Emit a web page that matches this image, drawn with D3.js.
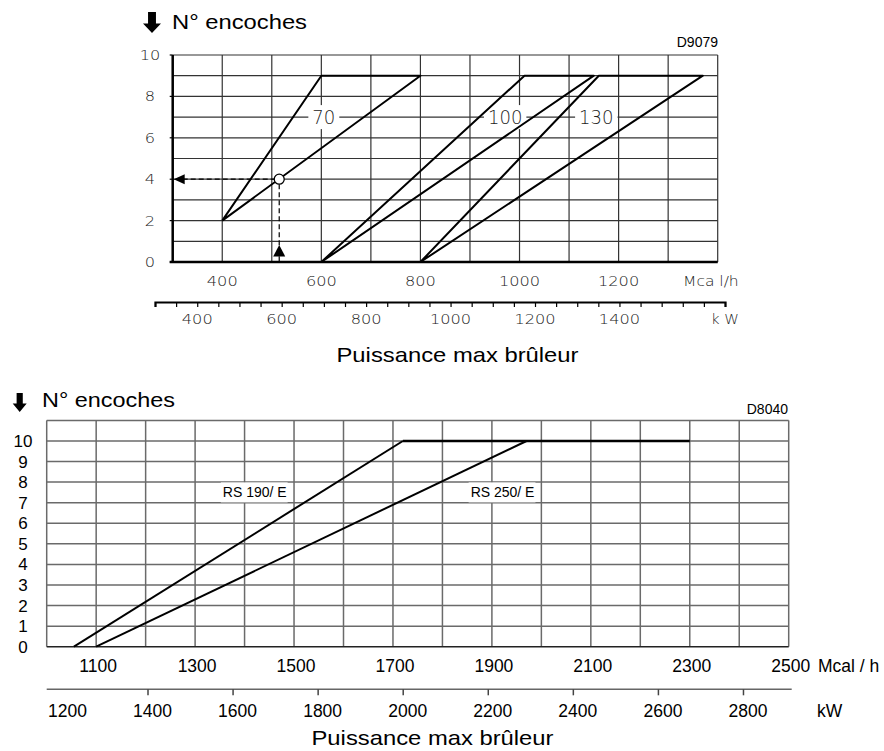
<!DOCTYPE html>
<html>
<head>
<meta charset="utf-8">
<script src="https://cdn.jsdelivr.net/npm/d3@7"></script>
<style>
  body { margin: 0; background: #fff; }
  svg { display: block; font-family: "Liberation Sans", Arial, sans-serif; }
  .thin { font-family: "DejaVu Sans", sans-serif; font-weight: 200; fill: #222; }
</style>
</head>
<body>
<svg width="884" height="751"></svg>
<script>
// ---- top chart (D9079) : x = Mcal/h, y = N° encoches
var topMcalTicks = [400, 600, 800, 1000, 1200];
var topYTicks = [0, 2, 4, 6, 8, 10];
var topKwTicks = [400, 600, 800, 1000, 1200, 1400];
var line70  = [[400, 2], [600, 9], [800, 9], [400, 2]];
var line100 = [[600, 0], [1010, 9], [1150, 9], [600, 0]];
var line130 = [[800, 0], [1160, 9], [1370, 9], [800, 0]];
var topLabels = [{text: "70", x: 605, y: 7}, {text: "100", x: 971, y: 7}, {text: "130", x: 1155, y: 7}];
var readPoint = [515, 4];

// ---- bottom chart (D8040)
var botMcalTicks = [1100, 1300, 1500, 1700, 1900, 2100, 2300, 2500];
var botYTicks = [0, 1, 2, 3, 4, 5, 6, 7, 8, 9, 10];
var botKwTicks = [1200, 1400, 1600, 1800, 2000, 2200, 2400, 2600, 2800];
var rs190 = [[1055, 0], [1720, 10]];
var rs250 = [[1100, 0], [1970, 10]];
var maxLine = [[1720, 10], [2300, 10]];
var botLabels = [{text: "RS 190/ E", x: 1356, y: 7.5}, {text: "RS 250/ E", x: 1857, y: 7.5}];

var KW_PER_MCAL = 1.163;

var svg = d3.select("svg");
svg.append("rect").attr("width", 884).attr("height", 751).attr("fill", "#fff");

// block arrow used beside "N° encoches"
function downArrow(g, x, y, w, h) {
  var s = w * 0.22;
  g.append("path")
    .attr("d", "M" + (x + w / 2 - s) + "," + y + "h" + (2 * s) + "v" + (h * 0.55) +
      "h" + (w / 2 - s) + "l" + (-w / 2) + "," + (h * 0.45) + "l" + (-w / 2) + "," + (-h * 0.45) +
      "h" + (w / 2 - s) + "z")
    .attr("fill", "#000");
}

// stretched thin text (the top drawing is wide-set)
function wideText(g, txt, x, y, size, sx, anchor) {
  return g.append("text")
    .attr("class", "thin")
    .attr("transform", "translate(" + x + "," + y + ") scale(" + sx + ",1)")
    .attr("text-anchor", anchor || "middle")
    .attr("font-size", size)
    .text(txt);
}

/////////////// TOP CHART
var x1 = d3.scaleLinear().domain([300, 1400]).range([172.7, 717.7]),
    y1 = d3.scaleLinear().domain([0, 10]).range([262, 55]),
    k1 = d3.scaleLinear().domain([300, 1650]).range([155, 725]);

var gTop = svg.append("g");

downArrow(gTop, 143, 12, 18, 21);
gTop.append("text").attr("x", 172).attr("y", 29).attr("font-size", 21)
  .attr("textLength", 135).attr("lengthAdjust", "spacingAndGlyphs").text("N° encoches");
gTop.append("text").attr("x", 718).attr("y", 46.5).attr("font-size", 14)
  .attr("text-anchor", "end").text("D9079");

gTop.selectAll(".vg").data(d3.range(300, 1401, 100)).enter().append("line")
  .attr("x1", d => x1(d)).attr("x2", d => x1(d))
  .attr("y1", y1(0)).attr("y2", y1(10))
  .attr("stroke", "#333").attr("stroke-width", 1.2);
gTop.selectAll(".hg").data(d3.range(0, 11)).enter().append("line")
  .attr("x1", x1(300)).attr("x2", x1(1400))
  .attr("y1", d => y1(d)).attr("y2", d => y1(d))
  .attr("stroke", "#333").attr("stroke-width", 1.2);
// small ticks left of axis
gTop.selectAll(".yt").data(topYTicks).enter().append("line")
  .attr("x1", x1(300) - 3).attr("x2", x1(300))
  .attr("y1", d => y1(d)).attr("y2", d => y1(d))
  .attr("stroke", "#000").attr("stroke-width", 1.2);

gTop.append("line").attr("x1", x1(300)).attr("x2", x1(300)).attr("y1", y1(0) + 1).attr("y2", y1(10))
  .attr("stroke", "#000").attr("stroke-width", 2.5);
gTop.append("line").attr("x1", x1(300) - 3).attr("x2", x1(1400)).attr("y1", y1(0)).attr("y2", y1(0))
  .attr("stroke", "#000").attr("stroke-width", 2.5);

// white boxes behind the curve labels
var labelG = gTop.append("g");
topLabels.forEach(function(l) {
  var t = wideText(labelG, l.text, x1(l.x), y1(l.y) + 7, 19, 0.95);
  var w = t.node().getBBox().width * 0.95;
  t.remove();
  labelG.append("rect")
    .attr("x", x1(l.x) - w / 2 - 4).attr("y", y1(l.y) - 12)
    .attr("width", w + 8).attr("height", 24).attr("fill", "#fff");
});

var line1 = d3.line().x(d => x1(d[0])).y(d => y1(d[1]));
[line70, line100, line130].forEach(function(s) {
  gTop.append("path").attr("d", line1(s)).attr("fill", "none")
    .attr("stroke", "#000").attr("stroke-width", 2).attr("stroke-linejoin", "round");
});
topLabels.forEach(function(l) {
  wideText(gTop, l.text, x1(l.x), y1(l.y) + 7, 19, 0.95);
});

// reading example
var px = x1(readPoint[0]), py = y1(readPoint[1]);
gTop.append("line").attr("x1", x1(300) + 10).attr("x2", px - 5).attr("y1", py).attr("y2", py)
  .attr("stroke", "#000").attr("stroke-width", 1.2).attr("stroke-dasharray", "5,3");
gTop.append("line").attr("x1", px).attr("x2", px).attr("y1", py + 5).attr("y2", y1(0))
  .attr("stroke", "#000").attr("stroke-width", 1.2).attr("stroke-dasharray", "5,3");
gTop.append("circle").attr("cx", px).attr("cy", py).attr("r", 5)
  .attr("fill", "#fff").attr("stroke", "#000").attr("stroke-width", 1.3);
gTop.append("path")
  .attr("d", "M" + (x1(300) + 1) + "," + py + "L" + (x1(300) + 12) + "," + (py - 5) + "L" + (x1(300) + 12) + "," + (py + 5) + "Z")
  .attr("fill", "#000");
gTop.append("path")
  .attr("d", "M" + px + "," + y1(0.82) + "L" + (px - 6) + "," + y1(0.27) + "L" + (px + 6) + "," + y1(0.27) + "Z")
  .attr("fill", "#000");

// y labels
topYTicks.forEach(function(v) {
  wideText(gTop, v, 150, y1(v) + 5, 13.5, 1.2);
});
// Mcal/h labels
topMcalTicks.forEach(function(v) {
  wideText(gTop, v, x1(v), 286, 13.5, 1.2);
});
wideText(gTop, "Mca l/h", 683, 286, 13.5, 1.15, "start");

// kW axis
var kAxis = d3.axisBottom(k1).tickValues(d3.range(300, 1651, 50)).tickSize(5).tickSizeOuter(5).tickFormat("");
var kg = gTop.append("g").attr("transform", "translate(0,302)").call(kAxis);
kg.select(".domain").attr("stroke-width", 2.2);
kg.selectAll(".tick line").attr("stroke-width", 1.2);
topKwTicks.forEach(function(v) {
  wideText(gTop, v, k1(v), 324, 13.5, 1.2);
});
wideText(gTop, "k W", 711, 324, 13.5, 1.1, "start");

gTop.append("text").attr("x", 457.5).attr("y", 361.5).attr("font-size", 21).attr("text-anchor", "middle")
  .attr("textLength", 242).attr("lengthAdjust", "spacingAndGlyphs").text("Puissance max brûleur");

/////////////// BOTTOM CHART
var x2 = d3.scaleLinear().domain([1000, 2500]).range([46.7, 788.7]),
    y2 = d3.scaleLinear().domain([0, 11]).range([646.7, 420.4]),
    k2 = d3.scaleLinear().domain([1000 * KW_PER_MCAL, 2500 * KW_PER_MCAL]).range([46.7, 788.7]);

var gBot = svg.append("g");

downArrow(gBot, 12.7, 393, 14, 19);
gBot.append("text").attr("x", 42).attr("y", 407).attr("font-size", 20)
  .attr("textLength", 133).attr("lengthAdjust", "spacingAndGlyphs").text("N° encoches");
gBot.append("text").attr("x", 788).attr("y", 413.5).attr("font-size", 14)
  .attr("text-anchor", "end").text("D8040");

gBot.selectAll(".vg").data(d3.range(1000, 2501, 100)).enter().append("line")
  .attr("x1", d => x2(d)).attr("x2", d => x2(d))
  .attr("y1", y2(0)).attr("y2", y2(11))
  .attr("stroke", "#6a6a6a").attr("stroke-width", 1.5);
gBot.selectAll(".hg").data(d3.range(0, 12)).enter().append("line")
  .attr("x1", x2(1000)).attr("x2", x2(2500))
  .attr("y1", d => y2(d)).attr("y2", d => y2(d))
  .attr("stroke", d => d === 0 ? "#222" : "#6a6a6a").attr("stroke-width", 1.5);

var line2 = d3.line().x(d => x2(d[0])).y(d => y2(d[1]));
botLabels.forEach(function(l) {
  var t = gBot.append("text").attr("x", x2(l.x)).attr("y", y2(l.y) + 5).attr("font-size", 14).text(l.text);
  var b = t.node().getBBox();
  gBot.insert("rect", function() { return t.node(); })
    .attr("x", b.x - 2).attr("y", y2(l.y) - 10).attr("width", b.width + 3).attr("height", 20)
    .attr("fill", "#fff");
});
gBot.append("path").attr("d", line2(rs190)).attr("fill", "none").attr("stroke", "#000").attr("stroke-width", 2);
gBot.append("path").attr("d", line2(rs250)).attr("fill", "none").attr("stroke", "#000").attr("stroke-width", 2);
gBot.append("path").attr("d", line2(maxLine)).attr("fill", "none").attr("stroke", "#000").attr("stroke-width", 2.6);

botYTicks.forEach(function(v) {
  gBot.append("text").attr("x", 23).attr("y", y2(v) + 6).attr("font-size", 17)
    .attr("text-anchor", "middle").text(v);
});
botMcalTicks.forEach(function(v) {
  gBot.append("text").attr("x", x2(v) + 2).attr("y", 671.5).attr("font-size", 17.5)
    .attr("text-anchor", "middle").text(v);
});
gBot.append("text").attr("x", 818).attr("y", 671.5).attr("font-size", 17.5).text("Mcal / h");

var k2Axis = d3.axisBottom(k2).tickValues(botKwTicks.slice(1)).tickSize(6).tickSizeOuter(0).tickFormat("");
var k2g = gBot.append("g").attr("transform", "translate(0,689.3)").call(k2Axis);
k2g.select(".domain").attr("stroke", "#666").attr("stroke-width", 1.5).attr("d", "M46.7,0H791.7");
k2g.selectAll(".tick line").attr("stroke", "#444").attr("stroke-width", 1.5);
botKwTicks.forEach(function(v) {
  gBot.append("text").attr("x", k2(v) + 5).attr("y", 716.5).attr("font-size", 17.5)
    .attr("text-anchor", "middle").text(v);
});
gBot.append("text").attr("x", 817).attr("y", 716.5).attr("font-size", 17.5).text("kW");

gBot.append("text").attr("x", 432.5).attr("y", 745).attr("font-size", 21).attr("text-anchor", "middle")
  .attr("textLength", 242).attr("lengthAdjust", "spacingAndGlyphs").text("Puissance max brûleur");
</script>
</body>
</html>
